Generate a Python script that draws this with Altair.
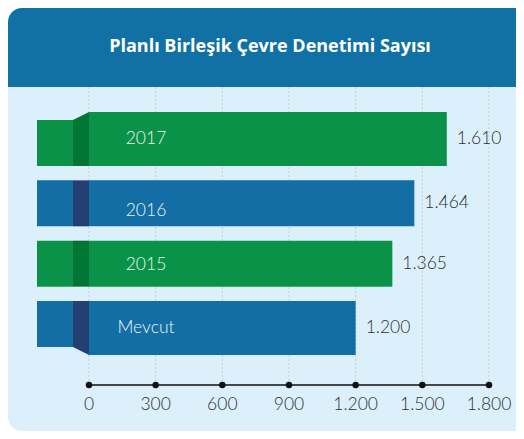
import altair as alt
import pandas as pd

# ---- data ----
categories = ["2017", "2016", "2015", "Mevcut"]
values = [1610, 1464, 1365, 1200]
tick_values = [0, 300, 600, 900, 1200, 1500, 1800]
tick_labels = ["0", "300", "600", "900", "1.200", "1.500", "1.800"]
title_text = "Planlı Birleşik Çevre Denetimi Sayısı"

# ---- style ----
HEADER = "#1170a4"
PANEL = "#dcf0fc"
GREEN, GREEN_D = "#0a9249", "#007534"
BLUE, BLUE_D = "#136ea6", "#243f72"
TXT = "#2f2f2f"
FONT = "Lato"
W, H = 508, 423

df = pd.DataFrame({
    "cat": categories,
    "value": values,
    "label": [f"{v:,}".replace(",", ".") for v in values],
})
ticks = pd.DataFrame({"t": tick_values, "lab": tick_labels})
one = pd.DataFrame({"a": [0]})
span = pd.DataFrame({"a": [tick_values[0]], "b": [tick_values[-1]]})

xs = alt.Scale(domain=[-364.5, 1921.5], nice=False, zero=False)
ys = alt.Scale(domain=categories, range=[104.83, 346.17],
               paddingInner=0.2376, paddingOuter=0.1188)
fill_main = {"2017": GREEN, "2016": BLUE, "2015": GREEN, "Mevcut": BLUE}
fill_dark = {"2017": GREEN_D, "2016": BLUE_D, "2015": GREEN_D, "Mevcut": BLUE_D}

Y = alt.Y("cat:N", scale=ys, axis=None)

header = alt.Chart(one).mark_rect(color=HEADER, cornerRadiusTopLeft=14).encode(
    x=alt.value(0), x2=alt.value(W), y=alt.value(0), y2=alt.value(79))
panel = alt.Chart(one).mark_rect(color=PANEL, cornerRadiusBottomLeft=14).encode(
    x=alt.value(0), x2=alt.value(W), y=alt.value(79), y2=alt.value(H))
title = alt.Chart(one).mark_text(
    text=title_text, font="Open Sans", fontWeight="bold", fontSize=18,
    color="white", align="center", baseline="middle").encode(
    x=alt.value(262), y=alt.value(39))

grid = alt.Chart(ticks).mark_rule(color="#c4cdd3", strokeDash=[2, 2], strokeWidth=1).encode(
    x=alt.X("t:Q", scale=xs, axis=None), y=alt.value(79), y2=alt.value(377))

bar_offsets = {"2017": (54, -4), "2016": (46, 0), "2015": (46, 0), "Mevcut": (54, 4)}
label_dy = {"2017": -4, "2016": 8, "2015": 1, "Mevcut": 4}

layers = [panel, header, title, grid]
for c in categories:
    sz, off = bar_offsets[c]
    base = alt.Chart(df).transform_filter(alt.datum.cat == c)
    # stub
    layers.append(base.mark_bar(color=fill_main[c]).encode(
        x=alt.value(29), x2=alt.value(65), y=Y))
    # fold
    layers.append(base.mark_bar(color=fill_dark[c]).encode(
        x=alt.value(65), x2=alt.value(81), y=Y))
    if c == "2017":
        layers.append(base.mark_point(
            shape="M -1 -2.875 L 1 -3.875 L 1 -2.875 Z", filled=True, size=256,
            color=fill_dark[c], opacity=1, strokeWidth=0).encode(x=alt.value(73), y=Y))
    if c == "Mevcut":
        layers.append(base.mark_point(
            shape="M -1 2.875 L 1 3.875 L 1 2.875 Z", filled=True, size=256,
            color=fill_dark[c], opacity=1, strokeWidth=0).encode(x=alt.value(73), y=Y))
    # main bar
    layers.append(base.mark_bar(size=sz, yOffset=off, color=fill_main[c]).encode(
        x=alt.X("value:Q", scale=xs, axis=None), x2=alt.datum(0), y=Y))
    layers.append(base.mark_text(
        font=FONT, fontSize=17.5, fontWeight=300, color="#eef5ee",
        align="center", baseline="middle", dy=label_dy[c]).encode(
        x=alt.value(138), y=Y, text="cat:N"))
    layers.append(base.mark_text(
        font=FONT, fontSize=17.5, fontWeight=300, color=TXT,
        align="left", baseline="middle", dx=10, dy=off).encode(
        x=alt.X("value:Q", scale=xs, axis=None), y=Y, text="label:N"))

axis_line = alt.Chart(span).mark_rule(color="#111", strokeWidth=1.5).encode(
    x=alt.X("a:Q", scale=xs, axis=None), x2="b:Q", y=alt.value(377))
axis_dots = alt.Chart(ticks).mark_point(filled=True, size=42, color="#111", opacity=1).encode(
    x=alt.X("t:Q", scale=xs, axis=None), y=alt.value(377))
axis_labels = alt.Chart(ticks).mark_text(
    font=FONT, fontSize=17.5, fontWeight=300, color=TXT,
    align="center", baseline="middle").encode(
    x=alt.X("t:Q", scale=xs, axis=None), y=alt.value(397), text="lab:N")
layers += [axis_line, axis_dots, axis_labels]

chart = alt.layer(*layers).properties(
    width=W, height=H, padding=0,
    autosize=alt.AutoSizeParams(type="none"),
    background="white",
).configure_view(stroke=None)

chart.save("out.html", embed_options={"renderer": "svg", "actions": False})
